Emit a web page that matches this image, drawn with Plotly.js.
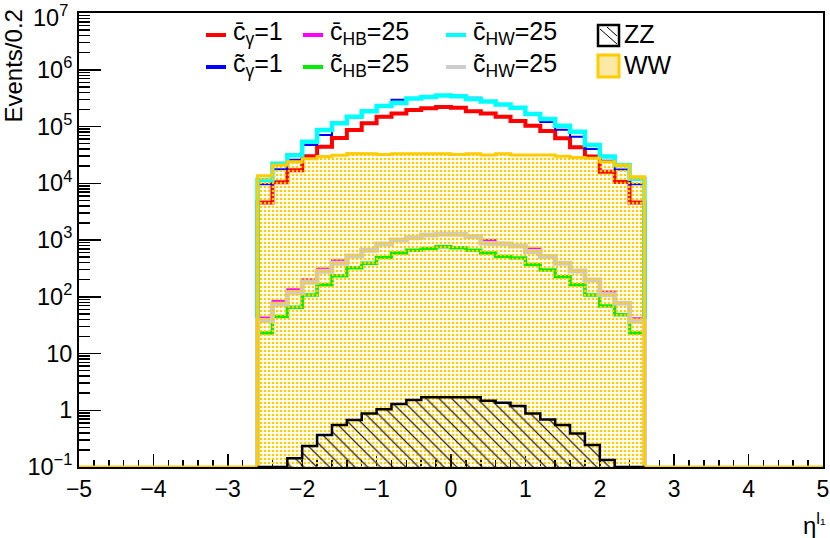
<!DOCTYPE html>
<html>
<head>
<meta charset="utf-8">
<script src="https://cdn.plot.ly/plotly-3.0.1.min.js"></script>
<style>
  body { margin: 0; background: #fff; }
  #plot { width: 830px; height: 538px; }
</style>
</head>
<body>
<div id="plot"></div>
<script>
// eta of the leading lepton, 26 filled bins of 0.2 from -2.6 to 2.6
var edgeLo = -2.6;
var binW = 0.2;
var yFloor = 0.1;   // empty bins sit on the log-axis minimum, like ROOT does

var ww = [1.36e4, 2.1e4, 2.4e4, 2.7e4, 2.95e4, 3.1e4, 3.35e4, 3.3e4, 3.2e4, 3.3e4, 3.35e4, 3.3e4, 3.3e4,
          3.2e4, 3.3e4, 3.15e4, 3.3e4, 3.15e4, 3.1e4, 3.15e4, 3.0e4, 2.85e4, 2.75e4, 2.4e4, 2.1e4, 1.3e4];
var zz = [0, 0, 0.142, 0.234, 0.366, 0.55, 0.67, 0.88, 1.04, 1.29, 1.51, 1.69, 1.74,
          1.74, 1.69, 1.47, 1.36, 1.19, 0.88, 0.69, 0.55, 0.39, 0.245, 0.133, 0, 0];
var cGamBar = [4.6e3, 1.04e4, 1.7e4, 3.0e4, 4.4e4, 6.3e4, 8.7e4, 1.14e5, 1.48e5, 1.7e5, 1.95e5, 2.1e5, 2.2e5,
               2.15e5, 1.86e5, 1.7e5, 1.48e5, 1.25e5, 1.03e5, 8.3e4, 6.2e4, 4.3e4, 2.95e4, 1.6e4, 1.05e4, 4.6e3];
var cGamTil = [9.6e3, 1.76e4, 2.6e4, 4.7e4, 7.1e4, 1.12e5, 1.45e5, 1.83e5, 2.3e5, 2.95e5, 3.1e5, 3.3e5, 3.55e5,
               3.55e5, 3.2e5, 2.8e5, 2.5e5, 2.2e5, 1.66e5, 1.2e5, 8.8e4, 6.6e4, 4.0e4, 2.5e4, 1.75e4, 9.6e3];
var cHBBar = [43, 84, 135, 204, 316, 440, 530, 665, 855, 1005, 1105, 1235, 1265,
              1265, 1160, 1000, 875, 795, 710, 515, 395, 290, 200, 124, 78, 42];
var cHBTil = [23, 45, 65, 107, 162, 235, 325, 390, 490, 590, 660, 710, 760,
              730, 660, 590, 510, 480, 370, 297, 225, 162, 107, 69, 48, 23];
var cHWBar = [1.14e4, 2.2e4, 3.1e4, 5.4e4, 8.7e4, 1.14e5, 1.48e5, 1.86e5, 2.3e5, 2.6e5, 3.1e5, 3.3e5, 3.5e5,
              3.4e5, 3.05e5, 2.75e5, 2.45e5, 2.15e5, 1.66e5, 1.35e5, 1.03e5, 8.1e4, 4.7e4, 2.96e4, 2.1e4, 1.2e4];
var cHWTil = [38, 74, 118, 180, 280, 390, 525, 660, 850, 1000, 1100, 1230, 1260,
              1250, 1150, 880, 850, 780, 625, 510, 390, 285, 198, 108, 77, 37];

var yTickVals = [0.1, 1, 10, 100, 1e3, 1e4, 1e5, 1e6, 1e7];
var yTickText = ['10<sup>\u22121</sup>', '1', '10', '10<sup>2</sup>', '10<sup>3</sup>',
                 '10<sup>4</sup>', '10<sup>5</sup>', '10<sup>6</sup>', ''];
var topTickText = '10<sup>7</sup>';   // ROOT nudges the top label down inside the pad

var legendLabels = ['c\u0304<sub>\u03b3</sub>=1', 'c\u0303<sub>\u03b3</sub>=1',
                    'c\u0304<sub>HB</sub>=25', 'c\u0303<sub>HB</sub>=25',
                    'c\u0304<sub>HW</sub>=25', 'c\u0303<sub>HW</sub>=25'];
var lineColors = ['#ff0000', '#0000ff', '#ff00ff', '#00ee00', '#00ffff', '#cccccc'];

// step outline of a histogram, going down to the floor at both ends
function steps(vals, xFrom, xTo) {
    var xs = [xFrom, edgeLo], ys = [yFloor, yFloor];
    for (var i = 0; i < vals.length; i++) {
        var lo = edgeLo + i * binW;
        var v = vals[i] > yFloor ? vals[i] : yFloor;
        xs.push(lo, lo + binW);
        ys.push(v, v);
    }
    var hi = edgeLo + vals.length * binW;
    xs.push(hi, xTo);
    ys.push(yFloor, yFloor);
    return {x: xs, y: ys};
}

function histLine(vals, color, width) {
    var s = steps(vals, edgeLo, edgeLo + vals.length * binW);
    return {x: s.x, y: s.y, type: 'scatter', mode: 'lines',
            line: {color: color, width: width}, showlegend: false, hoverinfo: 'skip'};
}

var data = [
    histLine(cGamBar, lineColors[0], 4),
    histLine(cGamTil, lineColors[1], 2),
    histLine(cHBBar, lineColors[2], 2),
    histLine(cHBTil, lineColors[3], 3.5),
    histLine(cHWBar, lineColors[4], 4.5),
    histLine(cHWTil, lineColors[5], 5)
];

var wwSteps = steps(ww, -5, 5);
data.push({
    x: wwSteps.x, y: wwSteps.y, type: 'scatter', mode: 'lines', fill: 'toself',
    fillpattern: {shape: '.', fgcolor: '#ffcc00', bgcolor: 'rgba(0,0,0,0)', size: 4, solidity: 0.35},
    line: {color: '#ffcc00', width: 3}, showlegend: false, hoverinfo: 'skip'
});
var zzSteps = steps(zz, edgeLo, edgeLo + zz.length * binW);
data.push({
    x: zzSteps.x, y: zzSteps.y, type: 'scatter', mode: 'lines', fill: 'toself',
    fillpattern: {shape: '\\', fgcolor: '#000000', bgcolor: 'rgba(0,0,0,0)', size: 9, solidity: 0.12},
    line: {color: '#000000', width: 2.5}, showlegend: false, hoverinfo: 'skip'
});

// frame in pixels, used to place the hand-made legend
var L = 79, R = 823, T = 13, B = 467;
function px(x) { return (x - L) / (R - L); }
function py(y) { return (B - y) / (B - T); }

var font = 'Liberation Sans, Arial, sans-serif';
var shapes = [], annotations = [];
var colX = [206, 303, 446], rowY = [35, 67];
for (var i = 0; i < legendLabels.length; i++) {
    var cx = colX[Math.floor(i / 2)], cy = rowY[i % 2];
    shapes.push({type: 'line', xref: 'paper', yref: 'paper',
                 x0: px(cx), x1: px(cx + 20), y0: py(cy), y1: py(cy),
                 line: {color: lineColors[i], width: 4}});
    annotations.push({text: legendLabels[i], xref: 'paper', yref: 'paper',
                      x: px(cx + 25), y: py(cy - 2), xanchor: 'left', yanchor: 'middle',
                      showarrow: false, font: {family: font, size: 25, color: '#000'}});
}
// ZZ and WW boxes
shapes.push({type: 'rect', xref: 'paper', yref: 'paper', x0: px(598), x1: px(619), y0: py(25), y1: py(46),
             line: {color: '#000', width: 2.5}, fillcolor: '#fff'});
shapes.push({type: 'line', xref: 'paper', yref: 'paper', x0: px(600), x1: px(617), y0: py(29), y1: py(44),
             line: {color: '#000', width: 1}});
shapes.push({type: 'line', xref: 'paper', yref: 'paper', x0: px(607), x1: px(617), y0: py(27), y1: py(36),
             line: {color: '#000', width: 1}});
shapes.push({type: 'rect', xref: 'paper', yref: 'paper', x0: px(598), x1: px(619), y0: py(55), y1: py(77),
             line: {color: '#ffcc00', width: 3}, fillcolor: '#fde9a6'});
annotations.push({text: 'ZZ', xref: 'paper', yref: 'paper', x: px(622), y: py(34), xanchor: 'left', yanchor: 'middle',
                  showarrow: false, font: {family: font, size: 25, color: '#000'}});
annotations.push({text: 'WW', xref: 'paper', yref: 'paper', x: px(622), y: py(65), xanchor: 'left', yanchor: 'middle',
                  showarrow: false, font: {family: font, size: 25, color: '#000'}});

// top y label, kept inside the page
annotations.push({text: topTickText, xref: 'paper', yref: 'paper', x: px(70), y: py(16),
                  xanchor: 'right', yanchor: 'middle', showarrow: false,
                  font: {family: font, size: 23.5, color: '#000'}});

// axis titles placed the ROOT way (top / right aligned)
annotations.push({text: 'Events/0.2', textangle: -90, xref: 'paper', yref: 'paper',
                  x: px(13), y: py(8), xanchor: 'center', yanchor: 'top', showarrow: false,
                  font: {family: font, size: 24, color: '#000'}});
annotations.push({text: '\u03b7<sup>l\u2081</sup>', xref: 'paper', yref: 'paper',
                  x: px(828), y: py(524), xanchor: 'right', yanchor: 'middle', showarrow: false,
                  font: {family: font, size: 24, color: '#000'}});

var layout = {
    width: 830, height: 538,
    margin: {l: L, r: 830 - R, t: T, b: 538 - B},
    paper_bgcolor: '#fff', plot_bgcolor: '#fff',
    showlegend: false,
    font: {family: font, color: '#000'},
    xaxis: {
        range: [-5, 5], tickmode: 'linear', tick0: 0, dtick: 1,
        ticks: 'inside', ticklen: 13, tickwidth: 1.5, tickcolor: '#000',
        minor: {ticks: 'inside', ticklen: 7, tickwidth: 1.5, tickcolor: '#000', dtick: 0.2},
        showline: true, linecolor: '#000', linewidth: 2, mirror: true,
        showgrid: false, zeroline: false, layer: 'below traces',
        ticklabeloverflow: 'allow',
        tickfont: {family: font, size: 23, color: '#000'}
    },
    yaxis: {
        type: 'log', range: [-1, 7], tickmode: 'array',
        tickvals: yTickVals, ticktext: yTickText,
        ticks: 'inside', ticklen: 22, tickwidth: 1.5, tickcolor: '#000',
        minor: {ticks: 'inside', ticklen: 11, tickwidth: 1.5, tickcolor: '#000', dtick: 'D1'},
        showline: true, linecolor: '#000', linewidth: 2, mirror: true,
        showgrid: false, zeroline: false, layer: 'below traces',
        ticklabeloverflow: 'allow',
        tickfont: {family: font, size: 23.5, color: '#000'}
    },
    shapes: shapes,
    annotations: annotations
};

Plotly.newPlot('plot', data, layout, {staticPlot: true, displayModeBar: false});
</script>
</body>
</html>
